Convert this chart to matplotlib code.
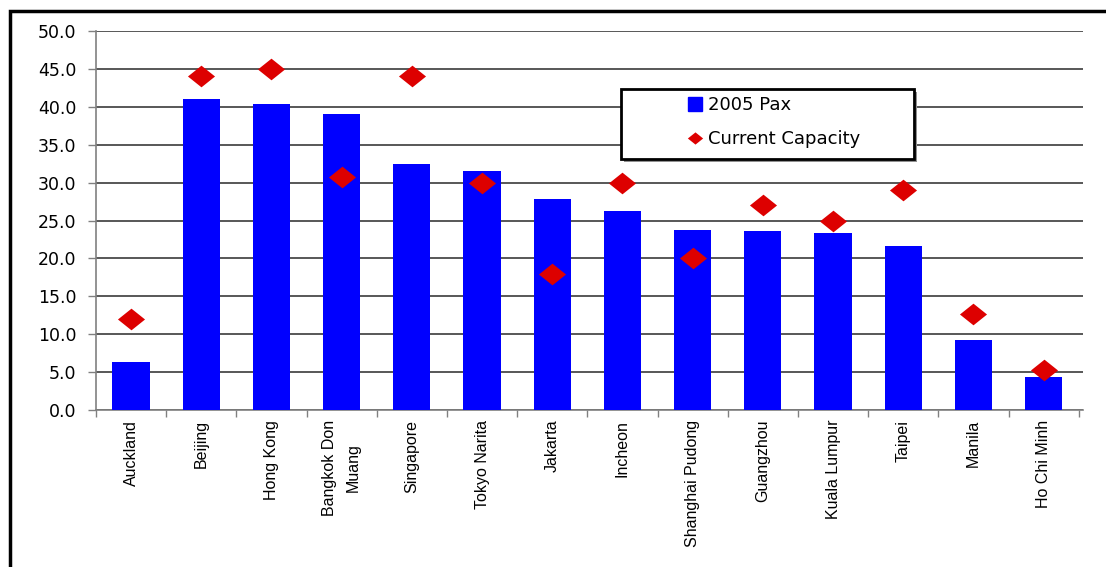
import matplotlib.pyplot as plt
import numpy as np
from matplotlib.patches import Rectangle
from matplotlib.lines import Line2D

airports = ["Auckland", "Beijing", "Hong Kong", "Bangkok Don\nMuang", "Singapore",
            "Tokyo Narita", "Jakarta", "Incheon", "Shanghai Pudong", "Guangzhou",
            "Kuala Lumpur", "Taipei", "Manila", "Ho Chi Minh"]
pax_2005 = [6.3, 41.0, 40.4, 39.0, 32.5, 31.5, 27.8, 26.3, 23.7, 23.6, 23.4, 21.6, 9.2, 4.4]
capacity = [12.0, 44.0, 45.0, 30.7, 44.0, 30.0, 18.0, 30.0, 20.0, 27.0, 25.0, 29.0, 12.7, 5.3]
y_ticks = np.arange(0, 50.1, 5.0)

fig = plt.figure(figsize=(11.06, 5.67), dpi=100)
ax = fig.add_axes([96 / 1106, 157 / 567, (1083 - 96) / 1106, 379 / 567])

x = np.arange(len(airports))
ax.bar(x, pax_2005, width=0.53, color="#0000FF", zorder=3)

# slightly flattened diamond, like the spreadsheet marker
diamond = [(-1, 0), (0, 0.8), (1, 0), (0, -0.8), (-1, 0)]
ax.plot(x, capacity, linestyle="none", marker=diamond, markersize=19.5,
        color="#DD0000", markeredgewidth=0, zorder=4)

ax.set_ylim(0, 50)
ax.set_xlim(-0.5, 13.56)
ax.set_yticks(y_ticks)
ax.set_yticklabels([f"{v:.1f}" for v in y_ticks], fontsize=12.5, family="DejaVu Sans")
ax.yaxis.grid(True, color="#2a2a2a", linewidth=1.1, zorder=0)
ax.set_axisbelow(True)

ax.set_xticks(x)
ax.set_xticklabels(airports, rotation=90, fontsize=11.5, family="Liberation Sans",
                   va="top", ha="center", multialignment="center", linespacing=1.75)
ax.set_xticks(np.arange(-0.5, 14, 1.0), minor=True)
ax.tick_params(axis="x", which="major", length=0, pad=7)
ax.tick_params(axis="x", which="minor", length=5, color="#808080", width=1)
ax.tick_params(axis="y", length=6, color="#808080", width=1, pad=8)

for side in ["top", "right"]:
    ax.spines[side].set_visible(False)
for side in ["left", "bottom"]:
    ax.spines[side].set_color("#808080")
    ax.spines[side].set_linewidth(1.2)

# legend box with a small drop shadow
lx0, lx1 = (621 - 96) / 987, (914 - 96) / 987
ly0, ly1 = (410 - 159) / 379, (410 - 89) / 379
ax.add_patch(Rectangle((lx0 + 0.003, ly0 - 0.008), lx1 - lx0, ly1 - ly0,
                       transform=ax.transAxes, facecolor="#909090", edgecolor="none",
                       zorder=5, clip_on=False))
ax.add_patch(Rectangle((lx0, ly0), lx1 - lx0, ly1 - ly0, transform=ax.transAxes,
                       facecolor="white", edgecolor="black", linewidth=2,
                       zorder=6, clip_on=False))
handles = [Line2D([], [], linestyle="none", marker="s", markersize=10, color="#0000FF"),
           Line2D([], [], linestyle="none", marker=diamond, markersize=11,
                  color="#DD0000", markeredgewidth=0)]
leg = ax.legend(handles, ["2005 Pax", "Current Capacity"], loc="center left",
                bbox_to_anchor=((677 - 96) / 987, (ly0 + ly1) / 2 + 0.005), frameon=False,
                prop={"family": "DejaVu Sans", "size": 13}, handlelength=1.0,
                handletextpad=0.2, labelspacing=0.9, borderpad=0)
leg.set_zorder(7)

# outer chart frame, running off the right and bottom edges
fig.add_artist(Rectangle((10 / 1106, -0.05), 1.2, (567 - 11) / 567 + 0.05,
                         transform=fig.transFigure, facecolor="none",
                         edgecolor="black", linewidth=2.5))

fig.savefig("out.png", dpi=100)
